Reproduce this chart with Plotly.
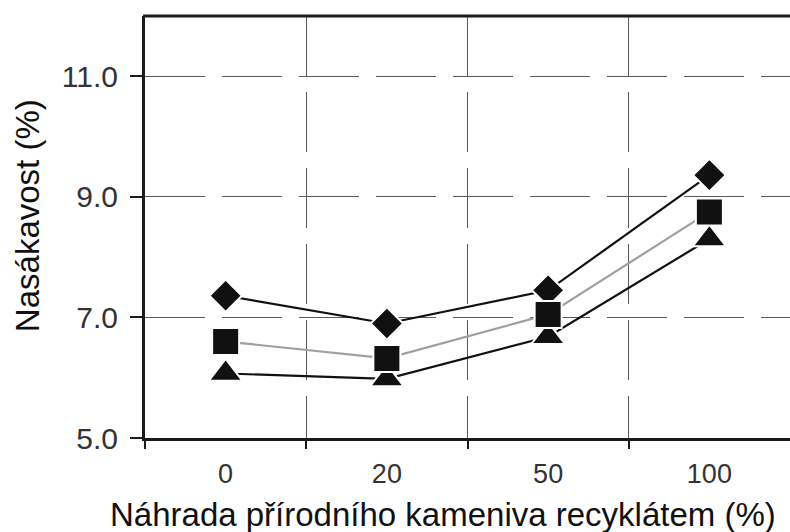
import plotly.graph_objects as go

categories = ["0", "20", "50", "100"]
diamond_vals = [7.36, 6.90, 7.45, 9.36]
square_vals = [6.60, 6.32, 7.05, 8.75]
triangle_vals = [6.07, 5.98, 6.68, 8.30]
y_ticks = [5.0, 7.0, 9.0, 11.0]
x_title = "Náhrada přírodního kameniva recyklátem (%)"
y_title = "Nasákavost (%)"

xpos = list(range(len(categories)))
bounds = [i - 0.5 for i in range(len(categories))]

FONT = "Liberation Sans"
fig = go.Figure()

def add(vals, symbol, size, linecolor, xaxis="x"):
    fig.add_trace(go.Scatter(
        x=xpos, y=vals, mode="lines+markers", xaxis=xaxis,
        line=dict(color=linecolor, width=2.2),
        marker=dict(symbol=symbol, size=size, color="#111111",
                    line=dict(color="white", width=2)),
        showlegend=False, cliponaxis=False))

add(diamond_vals, "diamond", 25, "#111111")
add(triangle_vals, "triangle-up", 29, "#111111")
add(square_vals, "square", 27, "#a0a0a0", xaxis="x2")

fig.update_layout(
    width=790, height=532,
    margin=dict(l=145, r=0, t=16, b=94),
    paper_bgcolor="white", plot_bgcolor="white",
    font=dict(family=FONT, color="#222222"),
    xaxis=dict(
        range=[-0.5, 3.5], tickvals=xpos, ticktext=categories,
        ticks="outside", ticklen=10, tickcolor="rgba(0,0,0,0)",
        showgrid=False, zeroline=False,
        showline=True, linecolor="#1a1a1a", linewidth=3, mirror=False,
        tickfont=dict(size=27, color="#333333"),
    ),
    xaxis2=dict(
        range=[-0.5, 3.5], overlaying="x", anchor="y", side="bottom",
        tickvals=bounds, showticklabels=False,
        ticks="outside", ticklen=10, tickwidth=2, tickcolor="#1a1a1a",
        showgrid=True, gridcolor="#5a5a5a", gridwidth=1.2, griddash="60px,16px",
        zeroline=False, showline=False, mirror=False,
    ),
    yaxis=dict(
        range=[5, 12], tickvals=y_ticks, tickformat=".1f",
        ticks="outside", ticklen=12, tickwidth=1.5, tickcolor="#1a1a1a",
        showgrid=True, gridcolor="#5a5a5a", gridwidth=1.2, griddash="60px,17px",
        zeroline=False, showline=True, linecolor="#1a1a1a", linewidth=3, mirror=False,
        tickfont=dict(size=30, color="#333333"), ticklabelstandoff=6,
    ),
    shapes=[dict(type="line", xref="paper", yref="paper", x0=-0.003, x1=1.0,
                 y0=1, y1=1, line=dict(color="#1a1a1a", width=3))],
    annotations=[
        dict(text=x_title, xref="paper", yref="paper", x=0.462, y=-0.182,
             xanchor="center", yanchor="middle", showarrow=False,
             font=dict(size=33, color="#111111")),
        dict(text=y_title, xref="paper", yref="paper", x=-0.183, y=0.528,
             xanchor="center", yanchor="middle", showarrow=False, textangle=-90,
             font=dict(size=33, color="#111111")),
    ],
)

fig.write_html("out.html")
